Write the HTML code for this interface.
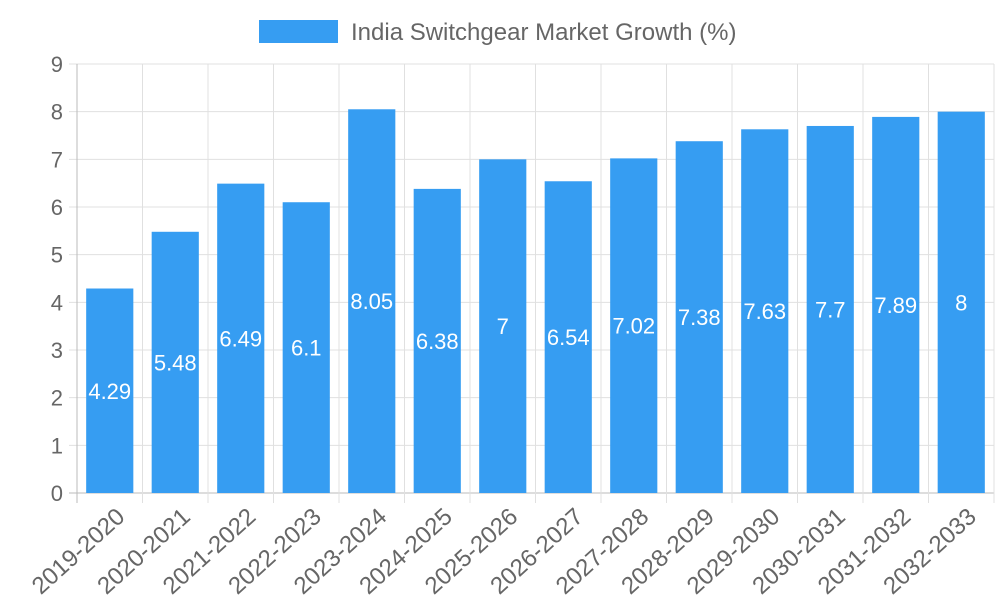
<!DOCTYPE html>
<html><head><meta charset="utf-8"><style>
body{margin:0;background:#fff;}
svg{display:block;font-family:"Liberation Sans",sans-serif;}
</style></head><body>
<svg id="chart" width="1000" height="600">
<g>
<rect x="259" y="20" width="79" height="23" fill="#369df2"></rect>
<text x="351" y="40" font-size="24" fill="#666">India Switchgear Market Growth (%)</text>
</g>
<g id="grid"></g><g id="bars"></g><g id="labels"></g>
</svg>
<script>
const categories=["2019-2020","2020-2021","2021-2022","2022-2023","2023-2024","2024-2025","2025-2026","2026-2027","2027-2028","2028-2029","2029-2030","2030-2031","2031-2032","2032-2033"];
const values=[4.29,5.48,6.49,6.1,8.05,6.38,7,6.54,7.02,7.38,7.63,7.7,7.89,8];
const yTicks=[0,1,2,3,4,5,6,7,8,9];
const NS="http://www.w3.org/2000/svg";
const x0=77,x1=994,y0=493,y9=64,yMax=9;
const bw=(x1-x0)/categories.length;
const y=v=>y0-(v/yMax)*(y0-y9);
const xc=i=>x0+bw*(i+0.5);
function mk(tag,attrs,parent){const e=document.createElementNS(NS,tag);for(const k in attrs)e.setAttribute(k,attrs[k]);parent.appendChild(e);return e;}
const grid=document.getElementById('grid'),bars=document.getElementById('bars'),labels=document.getElementById('labels');
yTicks.forEach(t=>{
 const l=mk('line',{x1:x0-8,x2:x1,y1:y(t),y2:y(t),stroke:t===0?'#bbb':'#e0e0e0','stroke-width':1},grid);
 
 
 const tx=mk('text',{x:x0-14,y:y(t)+8,'text-anchor':'end','font-size':22,fill:'#666'},grid);
 tx.textContent=t;
 
 
});
for(let i=0;i<=categories.length;i++){
 const gx=x0+bw*i;
 const l=mk('line',{x1:gx,x2:gx,y1:y9,y2:y0+10,stroke:i===0?'#bbb':'#e0e0e0','stroke-width':1},grid);
 
 
}
const barW=bw*0.72;
values.forEach((v,i)=>{
 const r=mk('rect',{x:xc(i)-barW/2,y:y(v),width:barW,height:y0-y(v),fill:'#369df2'},bars);
 
 
 const t=mk('text',{x:xc(i),y:(y(v)+y0)/2+8,'text-anchor':'middle','font-size':22,fill:'#fff'},bars);
 t.textContent=v;
 
 
});
categories.forEach((c,i)=>{
 const cx=xc(i)+5,cy=506;
 const t=mk('text',{x:cx,y:cy+17,'text-anchor':'end','font-size':24,fill:'#666',transform:`rotate(-42 ${cx} ${cy})`},labels);
 t.textContent=c;
 
 
});
</script>
</body></html>
